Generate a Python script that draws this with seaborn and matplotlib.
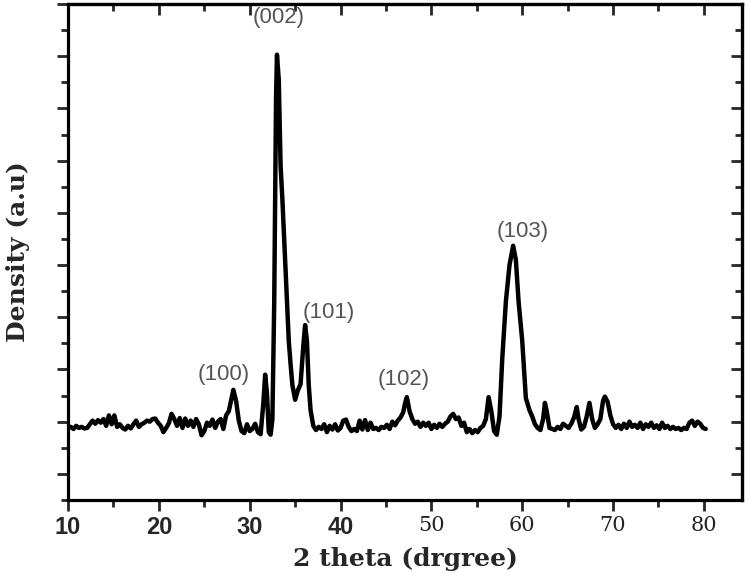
"""XRD pattern: density vs 2 theta with labelled reflections."""
import matplotlib
matplotlib.use("Agg")
import matplotlib.pyplot as plt
from matplotlib.ticker import MultipleLocator
import pandas as pd
import seaborn as sns

# 2 theta (deg) and intensity
two_theta = [
    10.0, 10.3, 10.6, 10.9, 11.2, 11.5, 11.8, 12.1, 12.4, 12.7, 13.0, 13.3, 13.6, 13.9,
    14.2, 14.5, 14.8, 15.1, 15.4, 15.7, 16.0, 16.3, 16.6, 16.9, 17.2, 17.5, 17.8, 18.1,
    18.4, 18.7, 19.0, 19.3, 19.6, 19.9, 20.2, 20.5, 20.8, 21.1, 21.4, 21.7, 22.0, 22.3,
    22.6, 22.9, 23.2, 23.5, 23.8, 24.1, 24.4, 24.7, 25.0, 25.3, 25.6, 25.9, 26.2, 26.5,
    26.8, 27.1, 27.4, 27.7, 28.0, 28.2, 28.5, 28.8, 29.1, 29.4, 29.7, 30.0, 30.3, 30.6,
    30.9, 31.2, 31.5, 31.7, 31.9, 32.1, 32.3, 32.5, 32.7, 32.9, 33.0, 33.2, 33.4, 33.6,
    33.9, 34.1, 34.3, 34.5, 34.7, 35.0, 35.3, 35.6, 35.9, 36.1, 36.3, 36.5, 36.7, 37.0,
    37.3, 37.6, 37.9, 38.2, 38.5, 38.8, 39.1, 39.4, 39.7, 40.0, 40.3, 40.6, 40.9, 41.2,
    41.5, 41.8, 42.1, 42.4, 42.7, 43.0, 43.3, 43.6, 43.9, 44.2, 44.5, 44.8, 45.1, 45.4,
    45.7, 46.0, 46.3, 46.6, 46.9, 47.1, 47.3, 47.6, 47.9, 48.2, 48.5, 48.8, 49.1, 49.4,
    49.7, 50.0, 50.3, 50.6, 50.9, 51.2, 51.5, 51.8, 52.1, 52.4, 52.7, 53.0, 53.3, 53.6,
    53.9, 54.2, 54.5, 54.8, 55.1, 55.4, 55.7, 56.0, 56.3, 56.6, 56.9, 57.2, 57.5, 57.8,
    58.2, 58.6, 59.0, 59.3, 59.6, 60.0, 60.4, 60.8, 61.1, 61.4, 61.7, 62.0, 62.3, 62.5,
    62.7, 63.0, 63.3, 63.6, 63.9, 64.2, 64.5, 64.8, 65.1, 65.4, 65.7, 66.0, 66.2, 66.5,
    66.8, 67.1, 67.4, 67.7, 68.0, 68.3, 68.6, 68.9, 69.1, 69.4, 69.7, 70.0, 70.3, 70.6,
    70.9, 71.2, 71.5, 71.8, 72.1, 72.4, 72.7, 73.0, 73.3, 73.6, 73.9, 74.2, 74.5, 74.8,
    75.1, 75.4, 75.7, 76.0, 76.3, 76.6, 76.9, 77.2, 77.5, 77.8, 78.1, 78.4, 78.7, 79.0,
    79.3, 79.6, 79.9, 80.2,
]
density = [
    0.88, 0.90, 0.86, 0.92, 0.88, 0.90, 0.87, 0.88, 0.95, 1.02, 0.96, 1.03, 0.98, 1.05,
    0.92, 1.12, 0.95, 1.12, 0.90, 0.95, 0.88, 0.85, 0.92, 0.87, 0.95, 1.02, 0.90, 0.95,
    0.98, 1.02, 1.00, 1.05, 1.06, 0.98, 0.92, 0.80, 0.88, 0.97, 1.15, 1.05, 0.92, 1.07,
    0.88, 1.06, 0.92, 1.02, 0.90, 1.05, 0.95, 0.74, 0.82, 0.98, 0.92, 1.04, 0.88, 1.00,
    1.05, 0.86, 1.12, 1.20, 1.45, 1.61, 1.40, 1.02, 0.82, 0.78, 0.95, 0.82, 0.86, 0.96,
    0.80, 0.76, 1.35, 1.90, 1.55, 0.80, 0.75, 1.05, 3.30, 7.20, 8.03, 7.55, 5.90, 5.25,
    4.10, 3.35, 2.55, 2.10, 1.70, 1.42, 1.60, 1.72, 2.45, 2.85, 2.55, 1.70, 1.22, 0.92,
    0.84, 0.90, 0.86, 0.95, 0.80, 0.92, 0.85, 0.95, 0.83, 0.88, 1.02, 1.04, 0.90, 0.82,
    0.86, 0.82, 1.02, 0.85, 1.03, 0.84, 0.98, 0.86, 0.88, 0.84, 0.90, 0.88, 0.94, 0.86,
    1.00, 0.93, 1.02, 1.08, 1.18, 1.35, 1.47, 1.20, 1.05, 0.96, 1.00, 0.90, 0.98, 0.92,
    0.98, 0.86, 0.94, 0.88, 0.96, 0.90, 0.96, 1.00, 1.10, 1.15, 1.05, 1.08, 0.92, 0.98,
    0.80, 0.86, 0.78, 0.84, 0.80, 0.88, 0.92, 1.05, 1.47, 1.20, 0.82, 0.75, 1.10, 2.20,
    3.30, 4.00, 4.37, 4.10, 3.30, 2.55, 1.45, 1.22, 1.10, 0.95, 0.88, 0.84, 1.05, 1.36,
    1.20, 0.88, 0.86, 0.84, 0.90, 0.86, 0.96, 0.92, 0.88, 0.96, 1.08, 1.28, 1.05, 0.85,
    0.90, 1.10, 1.36, 1.05, 0.88, 0.95, 1.05, 1.40, 1.48, 1.38, 1.12, 0.95, 0.88, 0.94,
    0.86, 0.96, 0.88, 1.00, 0.90, 0.94, 0.88, 0.98, 0.86, 0.95, 0.90, 0.98, 0.88, 0.93,
    0.86, 0.98, 0.88, 0.92, 0.86, 0.90, 0.86, 0.88, 0.84, 0.88, 0.86, 0.98, 1.02, 0.92,
    1.00, 0.96, 0.88, 0.86,
]

# reflection labels and where they sit
peak_labels = ["(100)", "(002)", "(101)", "(102)", "(103)"]
label_x = [27.1, 33.2, 38.7, 47.0, 60.0]
label_y = [1.90, 8.75, 3.10, 1.80, 4.64]

df = pd.DataFrame({"two_theta": two_theta, "density": density})

sns.set_style("ticks")
fig = plt.figure(figsize=(7.5, 5.78), dpi=100)
ax = fig.add_axes([0.0907, 0.135, 0.8987, 0.858])

sns.lineplot(data=df, x="two_theta", y="density", color="black", linewidth=3.2,
             sort=False, ax=ax)

for lab, lx, ly in zip(peak_labels, label_x, label_y):
    ax.text(lx, ly, lab, ha="center", va="center", fontsize=16,
            color="#555555", family="Liberation Sans")

ax.set_xlim(10, 84.2)
ax.set_ylim(-0.5, 9.0)
ax.xaxis.set_minor_locator(MultipleLocator(5))
ax.yaxis.set_major_locator(MultipleLocator(1))
ax.yaxis.set_minor_locator(MultipleLocator(0.5))
ax.set_xticks(range(10, 81, 10))
ax.set_yticklabels([])

for side in ax.spines:
    ax.spines[side].set_linewidth(2.3)
    ax.spines[side].set_color("black")

# left/bottom ticks point out
ax.tick_params(axis="both", which="major", length=8, width=2, direction="out")
ax.tick_params(axis="both", which="minor", length=5, width=2, direction="out")

# mirrored ticks on top/right point inward
top = ax.secondary_xaxis("top")
top.xaxis.set_major_locator(MultipleLocator(10))
top.xaxis.set_minor_locator(MultipleLocator(5))
top.tick_params(which="major", direction="in", length=8, width=2, labeltop=False)
top.tick_params(which="minor", direction="in", length=5, width=2)
top.spines["top"].set_linewidth(2.3)
right = ax.secondary_yaxis("right")
right.yaxis.set_major_locator(MultipleLocator(1))
right.yaxis.set_minor_locator(MultipleLocator(0.5))
right.tick_params(which="major", direction="in", length=8, width=2, labelright=False)
right.tick_params(which="minor", direction="in", length=5, width=2)
right.spines["right"].set_linewidth(2.3)

ax.set_xticklabels([str(v) for v in range(10, 81, 10)])
for i, lab in enumerate(ax.get_xticklabels()):
    if i < 4:
        lab.set_fontfamily("Liberation Sans")
        lab.set_fontweight("bold")
        lab.set_fontsize(17)
    else:
        lab.set_fontfamily("DejaVu Serif")
        lab.set_fontsize(15)
        lab.set_color("#222222")

ax.set_xlabel("2 theta (drgree)", fontsize=18, fontweight="bold",
              family="DejaVu Serif", labelpad=6)
ax.set_ylabel("Density (a.u)", fontsize=18, fontweight="bold",
              family="DejaVu Serif", labelpad=16)

fig.savefig("out.png", dpi=100)
